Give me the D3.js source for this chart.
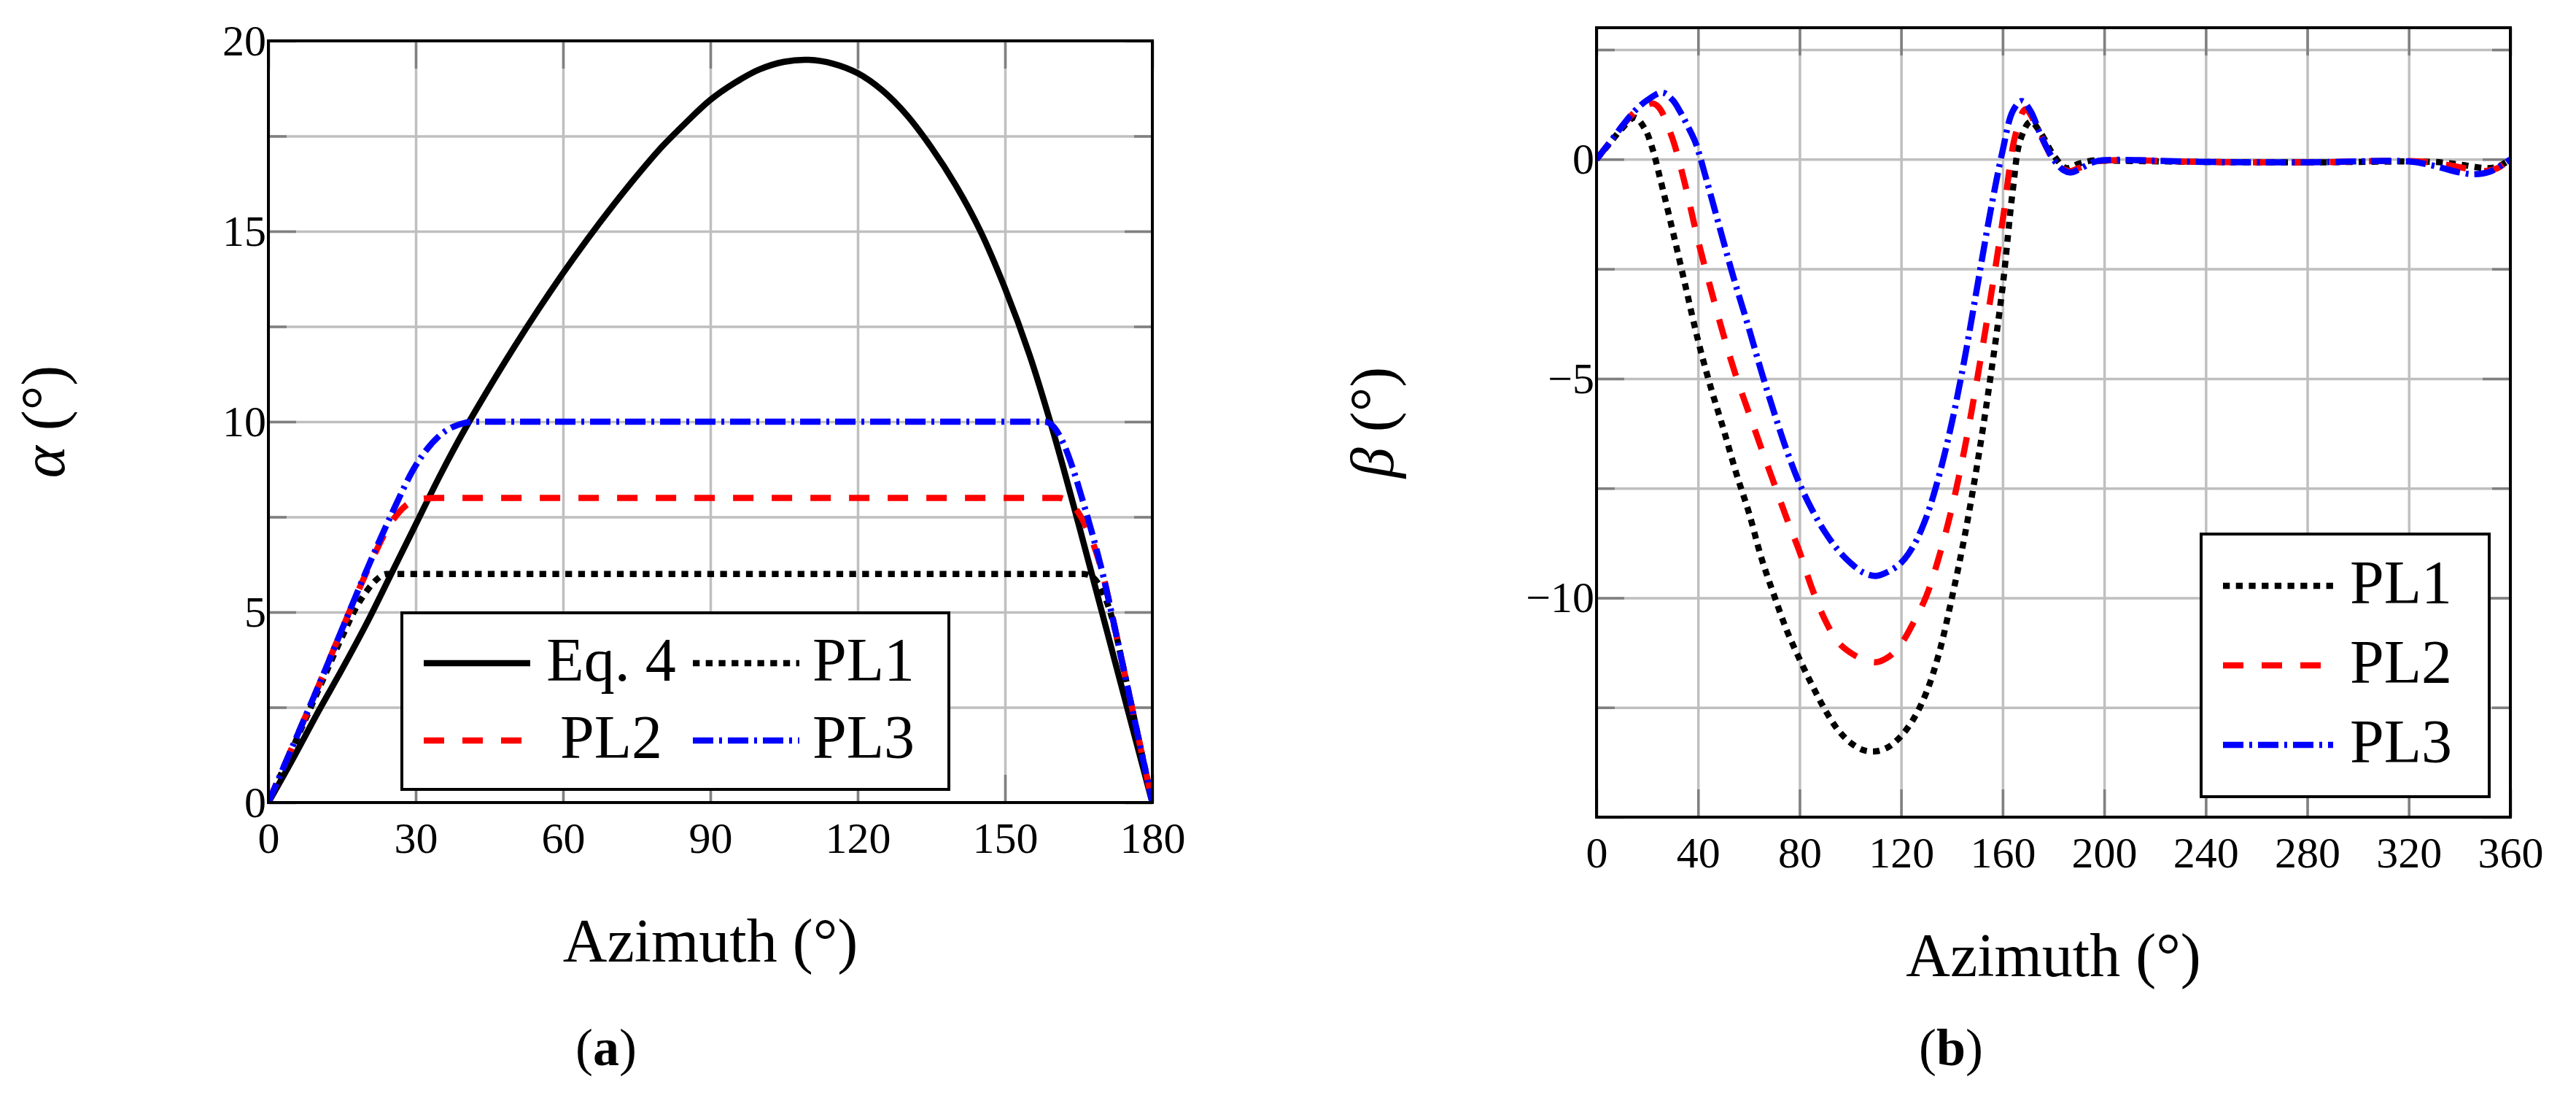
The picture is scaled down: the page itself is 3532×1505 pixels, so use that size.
<!DOCTYPE html>
<html>
<head>
<meta charset="utf-8">
<script src="https://cdn.jsdelivr.net/npm/d3@7"></script>
<style>
  body { margin: 0; background: #fff; }
  svg text { font-family: "Liberation Serif", "Times New Roman", serif; fill: #000; }
</style>
</head>
<body>
<svg id="fig" width="3532" height="1505"></svg>
<script>
// ---- data, panel (a): alpha (deg) vs azimuth (deg) ----
const eq4 = [[0,0],[5,1.15],[10,2.35],[15,3.5],[20,4.7],[25,6.0],[30,7.3],[35,8.6],[40,9.8],[45,10.9],
  [50,11.95],[55,12.95],[60,13.9],[65,14.8],[70,15.65],[75,16.45],[80,17.2],[85,17.85],[90,18.45],
  [95,18.9],[100,19.25],[105,19.45],[110,19.5],[115,19.4],[120,19.15],[125,18.7],[130,18.05],
  [135,17.2],[140,16.2],[145,15.0],[150,13.5],[155,11.75],[160,9.65],[165,7.3],[170,4.87],[175,2.43],[180,0]];
const pl1A = [[0,0],[5,1.45],[10,2.9],[15,4.35],[18,5.15],[20,5.55],[22,5.85],[24,6],[60,6],[120,6],
  [166,6],[168,5.9],[170,5.5],[172,4.75],[174,3.6],[176,2.4],[178,1.2],[180,0]];
const pl2A = [[0,0],[5,1.5],[10,3.0],[15,4.55],[20,6.05],[25,7.35],[28,7.8],[31,7.97],[34,8],[90,8],
  [161,8],[163,7.9],[165,7.6],[167,7.1],[169,6.4],[170,5.95],[172,4.8],[174,3.6],[176,2.4],[178,1.2],[180,0]];
const pl3A = [[0,0],[5,1.5],[10,3.0],[15,4.55],[20,6.1],[25,7.55],[30,8.85],[35,9.65],[40,9.97],[42,10],
  [100,10],[158,10],[160,9.85],[162,9.4],[164,8.7],[166,7.85],[168,6.95],[170,5.95],[172,4.8],[174,3.6],
  [176,2.4],[178,1.2],[180,0]];

// ---- data, panel (b): beta (deg) vs azimuth (deg) ----
const pl1B = [[0,0],[5,0.35],[10,0.7],[15,0.95],[19,0.7],[22,0.25],[25,-0.42],[30,-1.63],[35,-2.88],
  [40,-4.13],[45,-5.2],[50,-6.15],[55,-7.15],[60,-8.05],[65,-9.1],[70,-9.95],[75,-10.75],[80,-11.4],
  [85,-12],[90,-12.55],[95,-13],[100,-13.3],[105,-13.47],[110,-13.5],[115,-13.4],[120,-13.15],[125,-12.75],
  [130,-12.15],[135,-11.25],[140,-10],[145,-8.6],[150,-6.95],[155,-5.05],[160,-2.9],[164,-0.7],[167,0.45],
  [171,0.86],[175,0.6],[180,0.1],[185,-0.2],[190,-0.1],[195,-0.03],[200,-0.03],[240,-0.06],[280,-0.07],
  [320,-0.05],[330,-0.06],[340,-0.12],[350,-0.2],[355,-0.17],[360,0]];
const pl2B = [[0,0],[5,0.37],[10,0.75],[15,1.07],[20,1.25],[22.5,1.27],[25,1.15],[30,0.46],[35,-0.6],
  [40,-1.85],[45,-2.95],[50,-4],[55,-4.95],[60,-5.78],[65,-6.6],[70,-7.4],[75,-8.2],[80,-8.95],[85,-9.8],
  [90,-10.5],[95,-11],[100,-11.25],[105,-11.4],[110,-11.47],[115,-11.35],[120,-11.05],[125,-10.55],
  [130,-9.95],[135,-9.05],[140,-7.95],[145,-6.6],[150,-5],[155,-3.25],[160,-1.4],[165,0.55],[169,1.14],
  [173,0.8],[177,0.3],[181,-0.1],[186,-0.27],[190,-0.2],[195,-0.08],[200,-0.03],[240,-0.06],[280,-0.07],
  [320,-0.04],[330,-0.08],[340,-0.18],[350,-0.27],[355,-0.2],[360,0]];
const pl3B = [[0,0],[5,0.37],[10,0.75],[15,1.1],[20,1.35],[26,1.52],[30,1.35],[33,1.08],[36,0.75],
  [39,0.38],[43,-0.4],[48,-1.45],[54,-2.7],[60,-3.85],[65,-4.85],[70,-5.78],[75,-6.65],[80,-7.4],[85,-8],
  [90,-8.5],[95,-8.9],[100,-9.2],[105,-9.42],[110,-9.5],[115,-9.4],[120,-9.2],[125,-8.8],[130,-8.15],
  [135,-7.2],[140,-6],[145,-4.55],[150,-2.9],[155,-1.25],[160,0.2],[164,1.1],[167.5,1.33],[171,1.1],
  [175,0.55],[180,0],[184,-0.25],[187,-0.3],[191,-0.2],[196,-0.06],[200,-0.02],[240,-0.06],[280,-0.07],
  [320,-0.05],[330,-0.15],[340,-0.3],[346,-0.34],[352,-0.28],[357,-0.12],[360,0]];

// ticks
const xTicksA = [0, 30, 60, 90, 120, 150, 180];
const yTicksA = [0, 5, 10, 15, 20];
const yMinorA = [2.5, 7.5, 12.5, 17.5];
const xTicksB = [0, 40, 80, 120, 160, 200, 240, 280, 320, 360];
const yTicksB = [-15, -10, -5, 0];
const yLabelsB = [-10, -5, 0];
const yMinorB = [-12.5, -7.5, -2.5, 2.5];

// line styles
const STYLE = {
  eq4: { color: "#000", dash: null },
  pl1: { color: "#000", dash: "9.3 8.4" },
  pl2: { color: "#ff0000", dash: "28 25" },
  pl3: { color: "#0000ff", dash: "28 8 4 8" }
};

const svg = d3.select("#fig");
svg.append("rect").attr("width", 3532).attr("height", 1505).attr("fill", "#fff");
const defs = svg.append("defs");

const TICK = 38, MINOR = 25, LW = 8.5;

function styleAxis(sel, color, fs) {
    sel.select(".domain").remove();
    sel.attr("font-family", null).attr("font-size", fs);
    sel.selectAll("line").attr("stroke", color).attr("stroke-width", 3.5);
}

function panel(cfg) {
    const x = d3.scaleLinear().domain(cfg.xDomain).range(cfg.xRange);
    const y = d3.scaleLinear().domain(cfg.yDomain).range(cfg.yRange);
    const [x0, x1] = cfg.xRange;
    const [yb, yt] = cfg.yRange;
    const w = x1 - x0, h = yb - yt;
    const g = svg.append("g");

    // grid
    g.append("g").attr("transform", `translate(0,${yb})`)
        .call(d3.axisBottom(x).tickValues(cfg.xTicks).tickSize(-h).tickFormat(""))
        .call(s => styleAxis(s, "#bfbfbf", 0));
    g.append("g").attr("transform", `translate(${x0},0)`)
        .call(d3.axisLeft(y).tickValues(cfg.yGrid).tickSize(-w).tickFormat(""))
        .call(s => styleAxis(s, "#bfbfbf", 0));

    // ticks, all pointing inwards
    const tc = "#808080";
    g.append("g").attr("transform", `translate(0,${yb})`)
        .call(d3.axisBottom(x).tickValues(cfg.xTicks).tickSize(-TICK).tickPadding(cfg.xPad))
        .call(s => styleAxis(s, tc, 60));
    g.append("g").attr("transform", `translate(0,${yt})`)
        .call(d3.axisTop(x).tickValues(cfg.xTicks).tickSize(-TICK).tickFormat(""))
        .call(s => styleAxis(s, tc, 0));
    g.append("g").attr("transform", `translate(${x0},0)`)
        .call(d3.axisLeft(y).tickValues(cfg.yTicks).tickSize(-TICK)
            .tickFormat(d => cfg.yLabels.includes(d) ? d3.format("d")(d) : ""))
        .call(s => styleAxis(s, tc, 60));
    g.append("g").attr("transform", `translate(${x1},0)`)
        .call(d3.axisRight(y).tickValues(cfg.yTicks).tickSize(-TICK).tickFormat(""))
        .call(s => styleAxis(s, tc, 0));
    g.append("g").attr("transform", `translate(${x0},0)`)
        .call(d3.axisLeft(y).tickValues(cfg.yMinor).tickSize(-MINOR).tickFormat(""))
        .call(s => styleAxis(s, tc, 0));
    g.append("g").attr("transform", `translate(${x1},0)`)
        .call(d3.axisRight(y).tickValues(cfg.yMinor).tickSize(-MINOR).tickFormat(""))
        .call(s => styleAxis(s, tc, 0));
    g.selectAll("text").attr("fill", "#000");

    // curves
    defs.append("clipPath").attr("id", cfg.id)
        .append("rect").attr("x", x0).attr("y", yt).attr("width", w).attr("height", h);
    const plots = g.append("g").attr("clip-path", `url(#${cfg.id})`);
    cfg.series.forEach(s => {
        const line = d3.line().x(d => x(d[0])).y(d => y(d[1]))
            .curve(s.flat ? d3.curveMonotoneX : d3.curveCatmullRom.alpha(0.5));
        plots.append("path").attr("d", line(s.data))
            .attr("fill", "none").attr("stroke", STYLE[s.key].color)
            .attr("stroke-width", LW).attr("stroke-dasharray", STYLE[s.key].dash)
            .attr("stroke-linejoin", "round");
    });

    // legend
    const L = cfg.legend;
    const lg = g.append("g");
    lg.append("rect").attr("x", L.box[0]).attr("y", L.box[1])
        .attr("width", L.box[2] - L.box[0]).attr("height", L.box[3] - L.box[1])
        .attr("fill", "#fff").attr("stroke", "#000").attr("stroke-width", 4);
    L.items.forEach(it => {
        const st = STYLE[it.key];
        lg.append("line").attr("x1", it.lx).attr("x2", it.lx + L.len)
            .attr("y1", it.y).attr("y2", it.y)
            .attr("stroke", st.color).attr("stroke-width", LW).attr("stroke-dasharray", st.dash);
        lg.append("text").attr("x", it.tx).attr("y", it.y + 24)
            .attr("text-anchor", it.anchor).attr("font-size", 84).text(it.text);
    });

    // frame
    g.append("rect").attr("x", x0).attr("y", yt).attr("width", w).attr("height", h)
        .attr("fill", "none").attr("stroke", "#000").attr("stroke-width", 4);

    // axis labels
    g.append("text").attr("x", (x0 + x1) / 2).attr("y", cfg.xLabelY)
        .attr("text-anchor", "middle").attr("font-size", 84).text("Azimuth (°)");
    const yl = g.append("text")
        .attr("transform", `translate(${cfg.yLabelX},${(yb + yt) / 2}) rotate(-90)`)
        .attr("text-anchor", "middle").attr("font-size", 84);
    yl.append("tspan").attr("font-style", "italic").text(cfg.sym);
    yl.append("tspan").text(" (°)");

    const cap = g.append("text").attr("x", cfg.capX).attr("y", 1460)
        .attr("text-anchor", "middle").attr("font-size", 72);
    cap.append("tspan").text("(");
    cap.append("tspan").attr("font-weight", "bold").text(cfg.cap);
    cap.append("tspan").text(")");
}

panel({
    id: "clipA", xDomain: [0, 180], xRange: [368, 1580], yDomain: [0, 20], yRange: [1100, 56],
    xTicks: xTicksA, yTicks: yTicksA, yLabels: yTicksA, yMinor: yMinorA,
    yGrid: yTicksA.concat(yMinorA), xPad: 26,
    series: [{ key: "eq4", data: eq4 }, { key: "pl1", data: pl1A, flat: true },
             { key: "pl2", data: pl2A, flat: true }, { key: "pl3", data: pl3A, flat: true }],
    legend: {
        box: [551, 840, 1301, 1082], len: 146,
        items: [
            { key: "eq4", text: "Eq. 4", lx: 581, y: 909, tx: 838, anchor: "middle" },
            { key: "pl1", text: "PL1", lx: 950, y: 909, tx: 1184, anchor: "middle" },
            { key: "pl2", text: "PL2", lx: 581, y: 1015, tx: 838, anchor: "middle" },
            { key: "pl3", text: "PL3", lx: 950, y: 1015, tx: 1184, anchor: "middle" }
        ]
    },
    xLabelY: 1318, yLabelX: 88, sym: "α", capX: 831, cap: "a"
});

panel({
    id: "clipB", xDomain: [0, 360], xRange: [2189, 3442], yDomain: [-15, 3], yRange: [1120, 38],
    xTicks: xTicksB, yTicks: yTicksB, yLabels: yLabelsB, yMinor: yMinorB,
    yGrid: yTicksB.concat(yMinorB), xPad: 26,
    series: [{ key: "pl1", data: pl1B }, { key: "pl2", data: pl2B }, { key: "pl3", data: pl3B }],
    legend: {
        box: [3018, 732, 3413, 1092], len: 151,
        items: [
            { key: "pl1", text: "PL1", lx: 3048, y: 803, tx: 3222, anchor: "start" },
            { key: "pl2", text: "PL2", lx: 3048, y: 912, tx: 3222, anchor: "start" },
            { key: "pl3", text: "PL3", lx: 3048, y: 1021, tx: 3222, anchor: "start" }
        ]
    },
    xLabelY: 1338, yLabelX: 1910, sym: "β", capX: 2675, cap: "b"
});
</script>
</body>
</html>
